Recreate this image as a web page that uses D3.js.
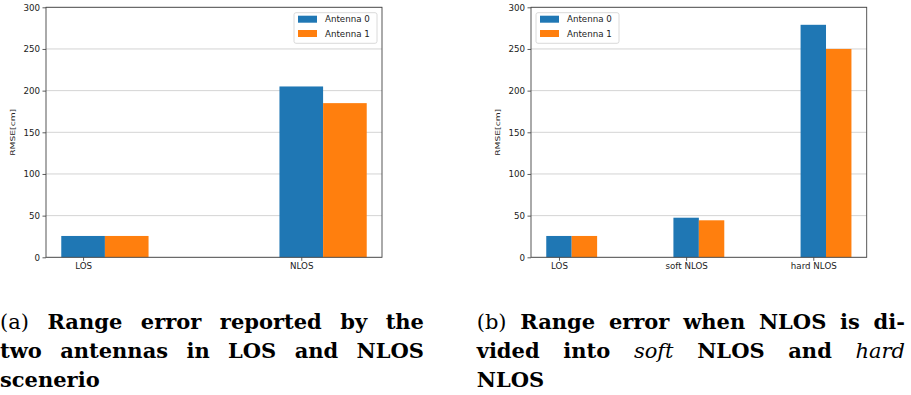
<!DOCTYPE html>
<html>
<head>
<meta charset="utf-8">
<script src="https://cdn.jsdelivr.net/npm/d3@7"></script>
<style>
  body { margin: 0; background: #fff; }
  svg { display: block; }
</style>
</head>
<body>
<svg width="911" height="395"></svg>
<script>
// data
const seriesNames = ["Antenna 0", "Antenna 1"];
const catsA = ["LOS", "NLOS"];
const ant0A = [25.6, 205];
const ant1A = [25.6, 185];
const catsB = ["LOS", "soft NLOS", "hard NLOS"];
const ant0B = [25.6, 47.5, 279];
const ant1B = [25.6, 44.4, 250];
const yTicks = [0, 50, 100, 150, 200, 250, 300];
const yLabel = "RMSE[cm]";

// caption words: [text, style] n=normal, b=bold, i=italic
const captionA = [
  [["(a)", "n"], ["Range", "b"], ["error", "b"], ["reported", "b"], ["by", "b"], ["the", "b"]],
  [["two", "b"], ["antennas", "b"], ["in", "b"], ["LOS", "b"], ["and", "b"], ["NLOS", "b"]],
  [["scenerio", "b"]]
];
const captionB = [
  [["(b)", "n"], ["Range", "b"], ["error", "b"], ["when", "b"], ["NLOS", "b"], ["is", "b"], ["di-", "b"]],
  [["vided", "b"], ["into", "b"], ["soft", "i"], ["NLOS", "b"], ["and", "b"], ["hard", "i"]],
  [["NLOS", "b"]]
];

const blue = "#1f77b4",
  orange = "#ff7f0e";

const svg = d3.select("svg");

function drawPanel(cats, s0, s1, left, right, legendX) {
  const top = 7.3, bottom = 257.3;
  const w = 0.2;
  const lo = -w / 2, hi = cats.length - 1 + 1.5 * w;
  const pad = (hi - lo) * 0.05;
  const xScale = d3.scaleLinear().domain([lo - pad, hi + pad]).range([left, right]);
  const yScale = d3.scaleLinear().domain([0, 300]).range([bottom, top]);

  const g = svg.append("g");

  // grid
  g.append("g")
    .selectAll("line")
    .data(yTicks)
    .enter()
    .append("line")
    .attr("x1", left)
    .attr("x2", right)
    .attr("y1", (d) => yScale(d))
    .attr("y2", (d) => yScale(d))
    .attr("stroke", "#d4d4d4")
    .attr("stroke-width", 1);

  // bars
  const series = [s0, s1];
  const colors = [blue, orange];
  series.forEach((vals, si) => {
    g.append("g")
      .selectAll("rect")
      .data(vals)
      .enter()
      .append("rect")
      .attr("x", (d, i) => xScale(i - w / 2 + si * w))
      .attr("width", xScale(w) - xScale(0))
      .attr("y", (d) => yScale(d))
      .attr("height", (d) => yScale(0) - yScale(d))
      .attr("fill", colors[si]);
  });

  // axes
  const yAxis = d3.axisLeft(yScale).tickValues(yTicks).tickSize(3.5).tickPadding(2.5);
  const yG = g.append("g").attr("transform", `translate(${left},0)`).call(yAxis);
  const xAxis = d3
    .axisBottom(xScale)
    .tickValues(d3.range(cats.length))
    .tickFormat((i) => cats[i])
    .tickSize(3.5)
    .tickPadding(2.5);
  const xG = g.append("g").attr("transform", `translate(0,${bottom})`).call(xAxis);
  [yG, xG].forEach((ax) => {
    ax.select("path.domain").remove();
    ax.selectAll("line").attr("stroke", "#333").attr("stroke-width", 0.8);
    ax.selectAll("text")
      .attr("fill", "#222")
      .style("font-family", "DejaVu Sans")
      .style("font-size", "8.7px");
  });

  // frame
  g.append("rect")
    .attr("x", left)
    .attr("y", top)
    .attr("width", right - left)
    .attr("height", bottom - top)
    .attr("fill", "none")
    .attr("stroke", "#444")
    .attr("stroke-width", 0.9);

  // y label
  g.append("text")
    .attr("transform", `translate(${left - 31},${(top + bottom) / 2}) rotate(-90)`)
    .attr("text-anchor", "middle")
    .attr("textLength", 47)
    .attr("lengthAdjust", "spacingAndGlyphs")
    .style("font-family", "DejaVu Sans")
    .style("font-size", "6.6px")
    .attr("fill", "#222")
    .text(yLabel);

  // legend
  const lg = g.append("g").attr("transform", `translate(${legendX},12.7)`);
  lg.append("rect")
    .attr("width", 83)
    .attr("height", 30.6)
    .attr("rx", 2)
    .attr("fill", "#fff")
    .attr("fill-opacity", 0.85)
    .attr("stroke", "#d0d0d0")
    .attr("stroke-width", 0.8);
  seriesNames.forEach((name, i) => {
    lg.append("rect")
      .attr("x", 4)
      .attr("y", 3 + i * 14.3)
      .attr("width", 19)
      .attr("height", 7)
      .attr("fill", colors[i]);
    lg.append("text")
      .attr("x", 31)
      .attr("y", 9.8 + i * 14.3)
      .style("font-family", "DejaVu Sans")
      .style("font-size", "8.7px")
      .attr("fill", "#222")
      .text(name);
  });
}

drawPanel(catsA, ant0A, ant1A, 46, 382, 294);
drawPanel(catsB, ant0B, ant1B, 531, 866.7, 536);

function drawCaption(lines, x0, x1) {
  const baselines = [329.3, 358.3, 387.3];
  lines.forEach((words, li) => {
    const nodes = words.map(([t, s]) =>
      svg
        .append("text")
        .attr("y", baselines[li])
        .style("font-family", "DejaVu Serif")
        .style("font-size", "21px")
        .style("font-weight", s === "b" ? "bold" : "normal")
        .style("font-style", s === "i" ? "italic" : "normal")
        .attr("fill", "#000")
        .text(t)
    );
    const widths = nodes.map((n) => n.node().getComputedTextLength());
    const total = d3.sum(widths);
    const last = li === lines.length - 1;
    const gap = last || nodes.length < 2 ? 7 : (x1 - x0 - total) / (nodes.length - 1);
    let x = x0;
    nodes.forEach((n, i) => {
      n.attr("x", x);
      x += widths[i] + gap;
    });
  });
}

drawCaption(captionA, 0, 424);
drawCaption(captionB, 476.7, 905);
</script>
</body>
</html>
